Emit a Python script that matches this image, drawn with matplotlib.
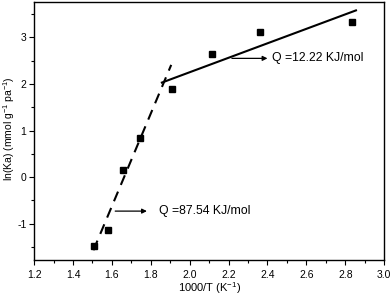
import matplotlib
matplotlib.use("Agg")
import matplotlib.pyplot as plt
from matplotlib.ticker import MultipleLocator

plt.rcParams['font.family'] = ['Liberation Sans', 'DejaVu Sans']
plt.rcParams['axes.unicode_minus'] = False

# measured points
inv_t = [1.51, 1.579, 1.659, 1.745, 1.911, 2.114, 2.364, 2.834]
ln_ka = [-1.48, -1.125, 0.15, 0.85, 1.89, 2.64, 3.11, 3.33]

# fitted lines (end points)
fit_hi_x = [1.505, 1.905]
fit_hi_y = [-1.57, 2.41]
fit_lo_x = [1.857, 2.855]
fit_lo_y = [2.03, 3.58]

label_hi = "Q =87.54 KJ/mol"
label_lo = "Q =12.22 KJ/mol"

fig = plt.figure(figsize=(3.92, 2.96), dpi=100)
ax = fig.add_axes([0.087, 0.1216, 0.893, 0.8716])

ax.plot(inv_t, ln_ka, 's', color='black', markersize=4.5)
ax.plot(fit_hi_x, fit_hi_y, color='black', lw=1.5, dashes=(5, 3.5))
ax.plot(fit_lo_x, fit_lo_y, color='black', lw=1.5)

arrow = dict(arrowstyle='-|>', color='black', lw=0.9, mutation_scale=7,
             shrinkA=0, shrinkB=0)
ax.annotate('', xy=(2.40, 2.55), xytext=(2.217, 2.55), arrowprops=arrow)
ax.text(2.423, 2.55, label_lo, fontsize=8.8, va='center', ha='left')
ax.annotate('', xy=(1.78, -0.73), xytext=(1.617, -0.73), arrowprops=arrow)
ax.text(1.843, -0.73, label_hi, fontsize=8.8, va='center', ha='left')

ax.set_xlim(1.2, 3.0)
ax.set_ylim(-1.78, 3.76)
ax.xaxis.set_major_locator(MultipleLocator(0.2))
ax.xaxis.set_minor_locator(MultipleLocator(0.1))
ax.yaxis.set_major_locator(MultipleLocator(1))
ax.yaxis.set_minor_locator(MultipleLocator(0.5))
ax.tick_params(which='both', direction='out', top=False, right=False,
               labelsize=7.5, width=0.8)
ax.tick_params(which='major', length=3.5)
ax.tick_params(which='minor', length=2)
ax.tick_params(axis='y', pad=2)
for s in ax.spines.values():
    s.set_linewidth(1.0)

ax.set_xlabel('1000/T (K$^{\\mathregular{-1}}$)', fontsize=8, va='center')
ax.xaxis.set_label_coords(0.5, -0.108)
ax.set_ylabel('ln(Ka) (mmol g$^{\\mathregular{-1}}$ pa$^{\\mathregular{-1}}$)',
              fontsize=7.5, va='center')
ax.yaxis.set_label_coords(-0.071, 0.51)

fig.savefig('out.png', dpi=100)
